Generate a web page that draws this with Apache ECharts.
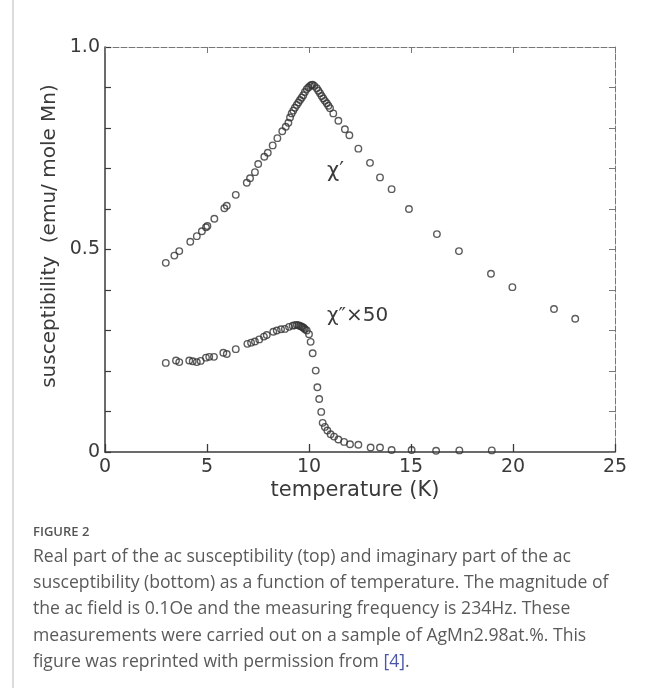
<!DOCTYPE html>
<html>
<head>
<meta charset="utf-8">
<script src="https://cdn.jsdelivr.net/npm/echarts@6/dist/echarts.min.js"></script>
<style>
html,body{margin:0;padding:0;background:#fff;}
#c{width:654px;height:688px;}
</style>
</head>
<body>
<div id="c"></div>
<script>
// Real part chi' : temperature (K) and susceptibility
var chi1T = [2.98,3.40,3.64,4.18,4.50,4.75,4.95,5.02,5.36,5.85,5.97,6.41,6.95,7.11,7.35,7.51,7.81,7.98,8.22,8.45,8.69,8.86,8.99,9.07,9.15,9.23,9.31,9.40,9.48,9.56,9.64,9.72,9.80,9.89,9.97,10.05,10.12,10.18,10.26,10.38,10.46,10.54,10.62,10.70,10.78,10.87,10.95,11.03,11.19,11.44,11.76,11.98,12.42,12.99,13.48,14.05,14.90,16.27,17.35,18.92,19.97,22.01,23.05];
var chi1V = [0.467,0.485,0.496,0.519,0.533,0.545,0.555,0.558,0.576,0.602,0.608,0.635,0.665,0.676,0.691,0.711,0.729,0.739,0.757,0.775,0.792,0.803,0.813,0.826,0.836,0.843,0.850,0.857,0.863,0.869,0.875,0.881,0.889,0.896,0.900,0.904,0.906,0.907,0.904,0.898,0.892,0.886,0.879,0.873,0.867,0.861,0.855,0.849,0.836,0.818,0.797,0.782,0.749,0.714,0.678,0.649,0.600,0.538,0.496,0.440,0.407,0.353,0.329];
// Imaginary part chi'' x 50
var chi2T = [2.98,3.48,3.64,4.13,4.30,4.50,4.69,4.95,5.11,5.34,5.80,5.97,6.41,6.98,7.16,7.35,7.56,7.79,7.93,8.25,8.42,8.63,8.82,9.02,9.20,9.30,9.40,9.48,9.56,9.63,9.69,9.75,9.80,9.89,10.00,10.08,10.18,10.33,10.41,10.50,10.60,10.67,10.78,10.90,11.06,11.23,11.44,11.72,12.01,12.42,13.02,13.48,14.05,15.03,16.23,17.37,18.96];
var chi2V = [0.220,0.226,0.222,0.226,0.224,0.222,0.225,0.233,0.235,0.235,0.245,0.242,0.254,0.267,0.270,0.273,0.278,0.285,0.289,0.297,0.300,0.303,0.304,0.309,0.312,0.313,0.314,0.313,0.311,0.310,0.308,0.306,0.303,0.300,0.291,0.272,0.244,0.201,0.160,0.131,0.099,0.072,0.062,0.053,0.044,0.038,0.031,0.025,0.019,0.018,0.011,0.011,0.005,0.005,0.003,0.004,0.004];
var xTicks = [0,5,10,15,20,25];
var yTickLabels = {0:'0', 5:'0.5', 10:'1.0'};

var captionTitle = 'FIGURE 2';
var captionLines = [
  'Real part of the ac susceptibility (top) and imaginary part of the ac',
  'susceptibility (bottom) as a function of temperature. The magnitude of',
  'the ac field is 0.1Oe and the measuring frequency is 234Hz. These',
  'measurements were carried out on a sample of AgMn2.98at.%. This',
  'figure was reprinted with permission from {ref|[4]}.'
];

function pairs(t, v){ var o=[]; for(var i=0;i<t.length;i++) o.push([t[i], v[i]]); return o; }

var font = 'DejaVu Sans';
var ink = '#3a3a3a';
var chart = echarts.init(document.getElementById('c'), null, {renderer:'canvas'});

var graphics = [
  {type:'line', shape:{x1:13,y1:0,x2:13,y2:688}, style:{stroke:'#b8b8b8', lineWidth:1}},
  {type:'text', x:50, y:236, rotation:Math.PI/2,
   style:{text:'susceptibility  (emu/ mole Mn)', font:'20px "DejaVu Sans"', fill:ink, align:'center', verticalAlign:'middle'}},
  {type:'text', x:355, y:491,
   style:{text:'temperature (K)', font:'21px "DejaVu Sans"', fill:ink, align:'center', verticalAlign:'middle'}},
  {type:'text', x:327, y:172,
   style:{text:'χ\u2032', font:'21px "DejaVu Sans"', fill:ink, align:'left', verticalAlign:'middle'}},
  {type:'text', x:327, y:316,
   style:{text:'χ\u2033\u00d750', font:'20px "DejaVu Sans"', fill:ink, align:'left', verticalAlign:'middle'}},
  {type:'text', x:33, y:532,
   style:{text:captionTitle, font:'600 13px "Open Sans"', fill:'#555', align:'left', verticalAlign:'middle'}}
];
captionLines.forEach(function(l, i){
  graphics.push({type:'text', x:33, y:557 + i*26.2,
    style:{text:l, font:'17.6px "Open Sans"', fill:'#5a5a5a', align:'left', verticalAlign:'middle',
      rich:{ref:{fill:'#4a55a8', font:'17.6px "Open Sans"'}}}});
});

var option = {
  animation:false,
  backgroundColor:'#fff',
  grid:{left:105, right:39, top:47, bottom:236},
  xAxis:[{
    type:'value', min:0, max:25, interval:5, position:'bottom',
    axisLine:{onZero:false, lineStyle:{color:ink, width:1.5}},
    axisTick:{inside:true, length:8, lineStyle:{color:ink, width:1.3}},
    axisLabel:{margin:6, color:ink, fontFamily:font, fontSize:19,
      formatter:function(v){ return xTicks.indexOf(v)>=0 ? String(v) : ''; }},
    splitLine:{show:false}
  },{
    type:'value', min:0, max:25, interval:5, position:'top',
    axisLine:{onZero:false, lineStyle:{color:'#777', width:1, type:[6,2]}},
    axisTick:{inside:true, length:6, lineStyle:{color:'#777'}},
    axisLabel:{show:false}, splitLine:{show:false}
  }],
  yAxis:[{
    type:'value', min:0, max:1, interval:0.1, position:'left',
    axisLine:{show:true, onZero:false, lineStyle:{color:ink, width:1.5}},
    axisTick:{show:true, inside:true, length:6, lineStyle:{color:ink, width:1.2}},
    axisLabel:{margin:5, color:ink, fontFamily:font, fontSize:19,
      formatter:function(v){ var k=Math.round(v*10); return yTickLabels[k] || ''; }},
    splitLine:{show:false}
  },{
    type:'value', min:0, max:1, interval:0.1, position:'right',
    axisLine:{show:true, onZero:false, lineStyle:{color:'#777', width:1, type:[6,2]}},
    axisTick:{show:true, inside:true, length:6, lineStyle:{color:'#777'}},
    axisLabel:{show:false}, splitLine:{show:false}
  }],
  series:[{
    type:'scatter', name:"chi'", data:pairs(chi1T, chi1V), symbol:'circle', symbolSize:6.5,
    itemStyle:{color:'rgba(0,0,0,0)', borderColor:'#333', borderWidth:1.4}
  },{
    type:'scatter', name:"chi''x50", data:pairs(chi2T, chi2V), symbol:'circle', symbolSize:6.5,
    itemStyle:{color:'rgba(0,0,0,0)', borderColor:'#333', borderWidth:1.4}
  }],
  graphic:graphics
};
chart.setOption(option);
</script>
</body>
</html>
